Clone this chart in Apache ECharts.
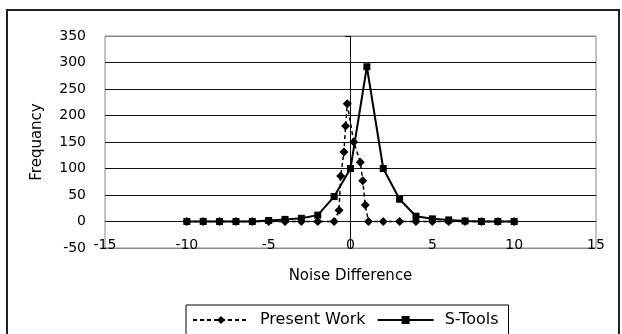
<!DOCTYPE html>
<html>
<head>
<meta charset="utf-8">
<script src="https://cdn.jsdelivr.net/npm/echarts@6/dist/echarts.min.js"></script>
<style>
  html, body { margin: 0; padding: 0; background: #fff; }
  #chart { width: 622px; height: 334px; }
</style>
</head>
<body>
<div id="chart"></div>
<script>
// Noise difference distribution: frequency per difference value
const presentX = [-10, -9, -8, -7, -6, -5, -4, -3, -2, -1, -0.7, -0.6, -0.4, -0.3, -0.2, 0.2, 0.6, 0.75, 0.9, 1.1, 2, 3, 4, 5, 6, 7, 8, 9, 10];
const presentY = [0, 0, 0, 0, 0, 0, 0, 0, 0, 0, 21, 86, 131, 180, 222, 150, 112, 77, 31, 0, 0, 0, 0, 0, 0, 0, 0, 0, 0];

const stoolsX = [-10, -9, -8, -7, -6, -5, -4, -3, -2, -1, 0, 1, 2, 3, 4, 5, 6, 7, 8, 9, 10];
const stoolsY = [0, 0, 0, 0, 0, 2, 4, 6, 12, 47, 100, 292, 100, 42, 10, 5, 3, 1, 0, 0, 0];

const seriesNames = ['Present Work', 'S-Tools'];
const xTitle = 'Noise Difference';
const yTitle = 'Frequancy';

const font = 'DejaVu Sans';
const pairs = (xs, ys) => xs.map((x, i) => [x, ys[i]]);

const chart = echarts.init(document.getElementById('chart'), null, { renderer: 'canvas' });
chart.setOption({
  animation: false,
  backgroundColor: '#fff',
  graphic: [
    {
      // outer chart frame
      type: 'rect',
      shape: { x: 7, y: 10, width: 612, height: 340 },
      style: { fill: 'none', stroke: '#222', lineWidth: 2 },
      silent: true, z: -1
    },
    {
      // small tick at the top of the vertical zero line
      type: 'line',
      shape: { x1: 345, y1: 36.5, x2: 351, y2: 36.5 },
      style: { stroke: '#000', lineWidth: 1 },
      silent: true, z: 5
    }
  ],
  grid: {
    left: 105, right: 26, top: 36, bottom: 86,
    show: true, borderColor: '#888', borderWidth: 1, backgroundColor: 'transparent'
  },
  xAxis: {
    type: 'value', min: -15, max: 15, interval: 5,
    axisLine: { show: false, onZero: false },
    axisTick: { show: false },
    splitLine: { show: false },
    axisLabel: { color: '#000', fontFamily: font, fontSize: 14, margin: -10 },
    name: xTitle, nameLocation: 'middle', nameGap: 21,
    nameTextStyle: { color: '#000', fontFamily: font, fontSize: 15 }
  },
  yAxis: {
    type: 'value', min: -50, max: 350, interval: 50,
    axisLine: { show: false },
    axisTick: { show: false },
    splitLine: {
      show: true,
      lineStyle: { color: ['#888', '#111', '#111', '#111', '#111', '#111', '#111', '#111', '#888'], width: 1 }
    },
    axisLabel: { color: '#000', fontFamily: font, fontSize: 14, margin: 19 },
    name: yTitle, nameLocation: 'middle', nameGap: 60, nameRotate: 90,
    nameTextStyle: { color: '#000', fontFamily: font, fontSize: 15 }
  },
  legend: {
    left: 186, top: 305,
    orient: 'horizontal',
    borderColor: '#000', borderWidth: 1,
    padding: [7, 10, 9, 6],
    itemWidth: 56, itemHeight: 10, itemGap: 11,
    textStyle: { color: '#000', fontFamily: font, fontSize: 16, padding: [0, 0, 0, 6] },
    data: seriesNames
  },
  series: [
    {
      name: seriesNames[0], type: 'line',
      data: pairs(presentX, presentY),
      symbol: 'diamond', symbolSize: 9,
      itemStyle: { color: '#000' },
      lineStyle: { color: '#000', width: 1.5, type: [4, 3] },
      z: 3
    },
    {
      name: seriesNames[1], type: 'line',
      data: pairs(stoolsX, stoolsY),
      symbol: 'rect', symbolSize: 7,
      itemStyle: { color: '#000' },
      lineStyle: { color: '#000', width: 2 },
      z: 4,
      markLine: {
        silent: true, symbol: 'none', label: { show: false },
        lineStyle: { color: '#000', width: 1, type: 'solid' },
        data: [{ xAxis: 0 }]
      }
    }
  ]
});
</script>
</body>
</html>
